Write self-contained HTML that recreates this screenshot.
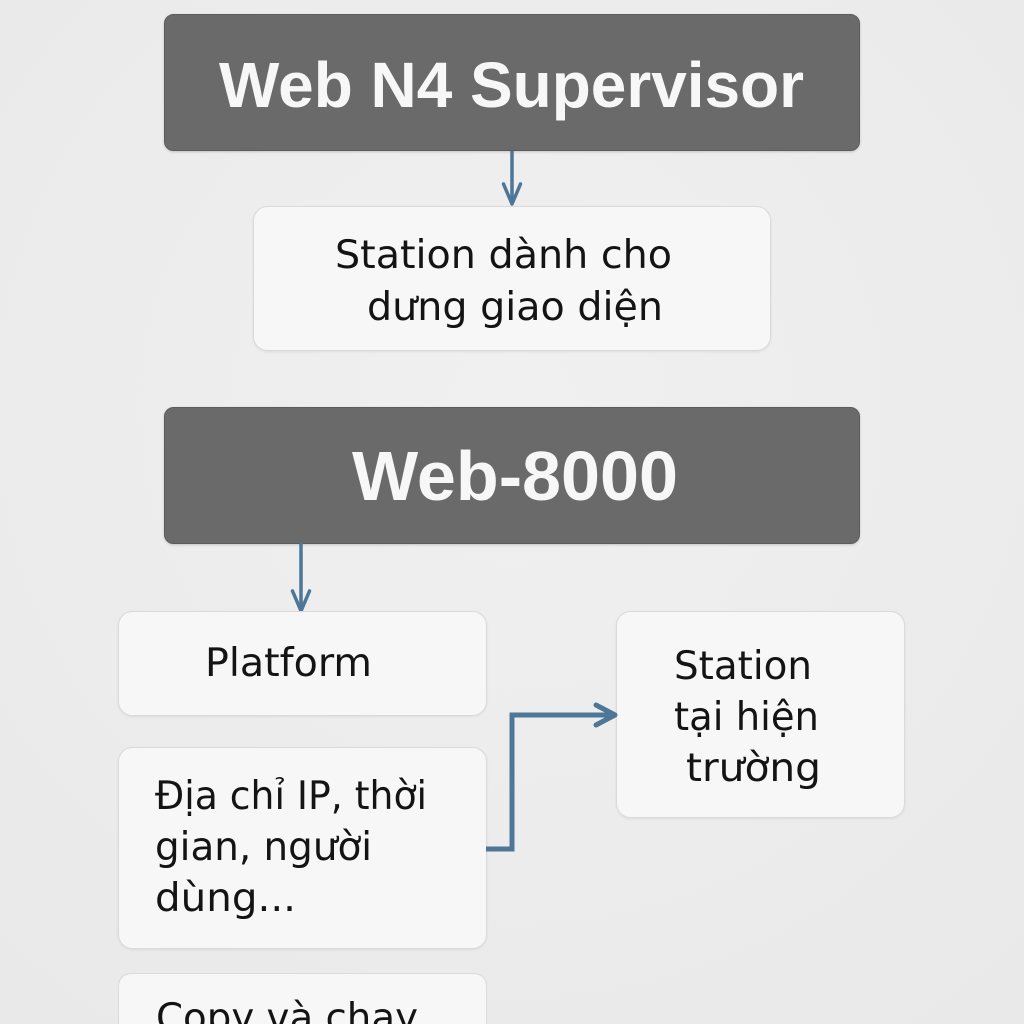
<!DOCTYPE html>
<html>
<head>
<meta charset="utf-8">
<style>
  html,body{margin:0;padding:0;background:#ededed;width:1024px;height:1024px;overflow:hidden;}
  svg{display:block;overflow:hidden;}
</style>
</head>
<body>
<svg width="1024" height="1024" viewBox="0 0 1024 1024" xmlns="http://www.w3.org/2000/svg">
  <defs>
    <radialGradient id="bg" cx="50%" cy="40%" r="75%">
      <stop offset="0" stop-color="#f0f0f0"/>
      <stop offset="1" stop-color="#e9e9e9"/>
    </radialGradient>
    <filter id="sh" x="-5%" y="-5%" width="110%" height="115%">
      <feDropShadow dx="0" dy="1" stdDeviation="1.2" flood-color="#000" flood-opacity="0.18"/>
    </filter>
    <filter id="sh2" x="-5%" y="-5%" width="110%" height="115%">
      <feDropShadow dx="0" dy="1" stdDeviation="1" flood-color="#000" flood-opacity="0.07"/>
    </filter>
    <clipPath id="clipB">
      <rect x="0" y="0" width="1024" height="1024"/>
    </clipPath>
  </defs>
  <rect x="0" y="0" width="1024" height="1024" fill="url(#bg)"/>

  <!-- Dark box 1 -->
  <rect x="164.5" y="14.5" width="695" height="136" rx="9" fill="#6b6b6b" stroke="#5c5c5c" stroke-width="1" filter="url(#sh)"/>
  <text x="219" y="107" font-family="Liberation Sans, Arial, sans-serif" font-weight="bold" font-size="64" fill="#f7f7f7" textLength="585" lengthAdjust="spacingAndGlyphs">Web N4 Supervisor</text>

  <!-- Arrow 1 -->
  <line x1="512" y1="151" x2="512" y2="203" stroke="#4d7697" stroke-width="3.5"/>
  <polyline points="503.5,184 512,204 520.5,184" fill="none" stroke="#4d7697" stroke-width="3.5" stroke-linecap="round" stroke-linejoin="round"/>

  <!-- Light box 2 -->
  <rect x="253.5" y="206.5" width="517" height="144" rx="14" fill="#f7f7f7" stroke="#dadada" stroke-width="1" filter="url(#sh2)"/>
  <g font-family="DejaVu Sans, Liberation Sans, sans-serif" font-size="39" fill="#141414">
    <text x="335" y="268" textLength="337" lengthAdjust="spacingAndGlyphs">Station dành cho</text>
    <text x="367" y="320" textLength="296" lengthAdjust="spacingAndGlyphs">dưng giao diện</text>
  </g>

  <!-- Dark box 2 -->
  <rect x="164.5" y="407.5" width="695" height="136" rx="9" fill="#6b6b6b" stroke="#5c5c5c" stroke-width="1" filter="url(#sh)"/>
  <text x="352" y="500" font-family="Liberation Sans, Arial, sans-serif" font-weight="bold" font-size="70" fill="#f7f7f7" textLength="326" lengthAdjust="spacingAndGlyphs">Web-8000</text>

  <!-- Arrow 2 -->
  <line x1="301" y1="543" x2="301" y2="610" stroke="#4d7697" stroke-width="3.5"/>
  <polyline points="292.5,591 301,611 309.5,591" fill="none" stroke="#4d7697" stroke-width="3.5" stroke-linecap="round" stroke-linejoin="round"/>

  <!-- Platform box -->
  <rect x="118.5" y="611.5" width="368" height="104" rx="14" fill="#f7f7f7" stroke="#dadada" stroke-width="1" filter="url(#sh2)"/>
  <!-- Dia chi box -->
  <rect x="118.5" y="747.5" width="368" height="201" rx="14" fill="#f7f7f7" stroke="#dadada" stroke-width="1" filter="url(#sh2)"/>
  <!-- Copy box (cut off at bottom) -->
  <path d="M118.5,1024 L118.5,987.5 Q118.5,973.5 132.5,973.5 L472.5,973.5 Q486.5,973.5 486.5,987.5 L486.5,1024" fill="#f7f7f7" stroke="#dadada" stroke-width="1"/>
  <!-- Station box -->
  <rect x="616.5" y="611.5" width="288" height="206" rx="14" fill="#f7f7f7" stroke="#dadada" stroke-width="1" filter="url(#sh2)"/>

  <!-- Connector -->
  <polyline points="486,849 512,849 512,715 612,715" fill="none" stroke="#4d7697" stroke-width="5" stroke-linejoin="miter"/>
  <polyline points="596,705 615,715 596,725" fill="none" stroke="#4d7697" stroke-width="5" stroke-linecap="round" stroke-linejoin="round"/>

  <g font-family="DejaVu Sans, Liberation Sans, sans-serif" font-size="39" fill="#141414">
    <text x="205" y="676" textLength="167" lengthAdjust="spacingAndGlyphs">Platform</text>

    <text x="155" y="809" textLength="272" lengthAdjust="spacingAndGlyphs">Địa chỉ IP, thời</text>
    <text x="155" y="860" textLength="217" lengthAdjust="spacingAndGlyphs">gian, người</text>
    <text x="155" y="911" textLength="141" lengthAdjust="spacingAndGlyphs">dùng...</text>

    <g clip-path="url(#clipB)">
      <text x="156" y="1031" textLength="262" lengthAdjust="spacingAndGlyphs">Copy và chạy</text>
    </g>

    <text x="674" y="679" textLength="138" lengthAdjust="spacingAndGlyphs">Station</text>
    <text x="674" y="730" textLength="145" lengthAdjust="spacingAndGlyphs">tại hiện</text>
    <text x="686" y="781" textLength="135" lengthAdjust="spacingAndGlyphs">trường</text>
  </g>
</svg>
</body>
</html>
